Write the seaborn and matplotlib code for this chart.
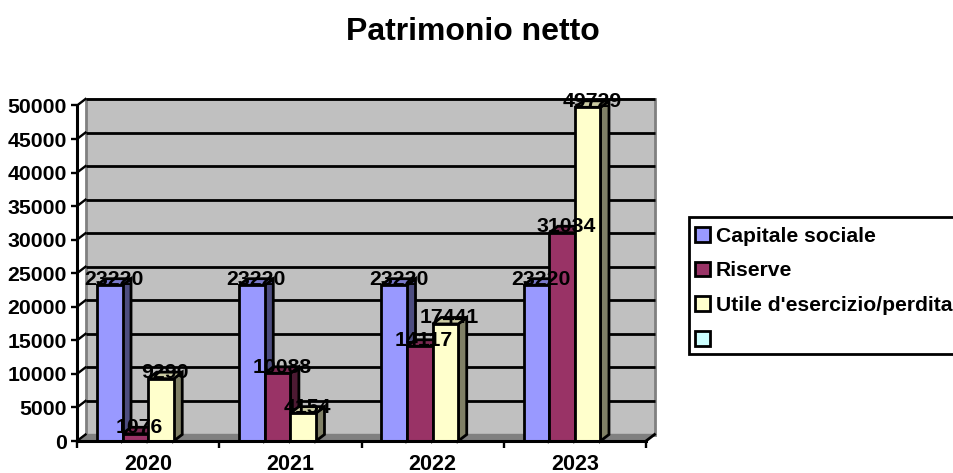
import numpy as np
import pandas as pd
import matplotlib
matplotlib.use("Agg")
import matplotlib.pyplot as plt
from matplotlib.patches import Patch, Polygon, Rectangle
from matplotlib.ticker import FixedLocator
from matplotlib.colors import to_rgb
import seaborn as sns

years = ["2020", "2021", "2022", "2023"]
series_names = ["Capitale sociale", "Riserve", "Utile d'esercizio/perdita", ""]
capitale = [23220, 23220, 23220, 23220]
riserve = [1076, 10088, 14117, 31034]
utile = [9290, 4154, 17441, 49729]
vuota = [np.nan, np.nan, np.nan, np.nan]
colors = ["#9999FF", "#993366", "#FFFFCC", "#CCFFFF"]
y_ticks = [0, 5000, 10000, 15000, 20000, 25000, 30000, 35000, 40000, 45000, 50000]

W, H = 954, 473
FONT = "Liberation Sans"
plt.rcParams["font.family"] = [FONT, "DejaVu Sans"]

df = pd.DataFrame({
    "Anno": years * 4,
    "Serie": sum(([n] * 4 for n in series_names), []),
    "Valore": capitale + riserve + utile + vuota,
})

fig = plt.figure(figsize=(W / 100, H / 100), dpi=100, facecolor="white")
L, R, T, B = 77, 646, 105.5, 441
ax = fig.add_axes([L / W, 1 - B / H, (R - L) / W, (B - T) / H])
ax.patch.set_visible(False)

LW = 2.0
sns.barplot(data=df, x="Anno", y="Valore", hue="Serie", hue_order=series_names,
            order=years, palette=dict(zip(series_names, colors)), saturation=1,
            width=0.72, gap=0, errorbar=None, legend=False, ax=ax,
            edgecolor="black", linewidth=LW)

ax.set_xlim(-0.5, 3.5)
ax.set_ylim(0, 50000)
x0, x1 = ax.get_xlim()
ymax = ax.get_ylim()[1]
DX = 8.5 * (x1 - x0) / (R - L)
DY = 6.5 * ymax / (B - T)

# Back wall, floor, and gridlines
ax.add_patch(Rectangle((x0 + DX, DY), x1 - x0, ymax, facecolor="#C0C0C0",
                       edgecolor="#808080", linewidth=2, zorder=0, clip_on=False))
ax.add_patch(Polygon([(x0, 0), (x0 + DX, DY), (x1 + DX, DY), (x1, 0)], closed=True,
                     facecolor="#808080", edgecolor="#808080", linewidth=1,
                     zorder=0.5, clip_on=False))
ax.plot([x1, x1 + DX], [0, DY], color="black", lw=LW, zorder=0.6, clip_on=False)
for v in y_ticks:
    if v > 0:
        ax.plot([x0 + DX, x1 + DX], [v + DY, v + DY], color="black", lw=LW,
                zorder=1, clip_on=False, solid_capstyle="butt")
    ax.plot([x0, x0 + DX], [v, v + DY], color="black", lw=1.7, zorder=1, clip_on=False)


def shade(col, f):
    return tuple(c * f for c in col)


rgb = [to_rgb(c) for c in colors]
# 3D faces and value labels drawn from the seaborn bars
for bar in list(ax.patches):
    if not isinstance(bar, Rectangle) or bar.get_zorder() == 0:
        continue
    h = bar.get_height()
    if not np.isfinite(h) or h <= 0:
        continue
    face = to_rgb(bar.get_facecolor())
    idx = int(np.argmin([sum((a - b) ** 2 for a, b in zip(face, c)) for c in rgb]))
    xa = bar.get_x()
    xb = xa + bar.get_width()
    base = 2 + idx
    bar.set_zorder(base + 0.5)
    ax.add_patch(Polygon([(xb, 0), (xb, h), (xb + DX, h + DY), (xb + DX, DY)], closed=True,
                         facecolor=shade(face, 0.5), edgecolor="black", linewidth=LW,
                         zorder=base, clip_on=False))
    ax.add_patch(Polygon([(xa, h), (xb, h), (xb + DX, h + DY), (xa + DX, h + DY)], closed=True,
                         facecolor=shade(face, 0.8), edgecolor="black", linewidth=LW,
                         zorder=base, clip_on=False))
    ax.text((xa + xb + DX) / 2, h + 900, f"{h:.0f}", ha="center", va="center",
            fontsize=15.3, fontweight="bold", color="black", zorder=10, clip_on=False)

ax.set_xlabel("")
ax.set_ylabel("")
ax.set_yticks(y_ticks)
ax.set_yticklabels([str(v) for v in y_ticks], fontsize=15.3, fontweight="bold")
ax.tick_params(axis="y", length=4, width=1.7, pad=3.5, color="black")
ax.set_xticks(range(len(years)))
ax.set_xticklabels(years, fontsize=15.5, fontweight="bold")
ax.xaxis.set_minor_locator(FixedLocator(np.arange(x0, x1 + 0.01, 1)))
ax.tick_params(axis="x", which="major", length=0, pad=9)
ax.tick_params(axis="x", which="minor", length=5, width=1.7, color="black")
for s in ("top", "right"):
    ax.spines[s].set_visible(False)
for s in ("left", "bottom"):
    ax.spines[s].set_linewidth(2.2)
    ax.spines[s].set_color("black")
    ax.spines[s].set_zorder(9)

fig.text(473 / W, 1 - 31.5 / H, "Patrimonio netto", ha="center", va="center",
         fontsize=23, fontweight="bold", color="black")

# Legend box runs past the right edge of the picture, as in the source
fig.add_artist(Rectangle((689 / W, 1 - 354 / H), 280 / W, 137 / H, transform=fig.transFigure,
                         facecolor="white", edgecolor="black", linewidth=2))
handles = [Patch(facecolor=c, edgecolor="black", linewidth=LW) for c in colors]
leg = fig.legend(handles, series_names, loc="upper left",
                 bbox_to_anchor=(689 / W, 1 - 220.5 / H), borderaxespad=0,
                 prop={"family": FONT, "weight": "bold", "size": 15.2},
                 frameon=False, handlelength=0.68, handleheight=0.68, handletextpad=0.3,
                 labelspacing=0.74, borderpad=0.3)

fig.savefig("out.png", dpi=100, facecolor="white")
